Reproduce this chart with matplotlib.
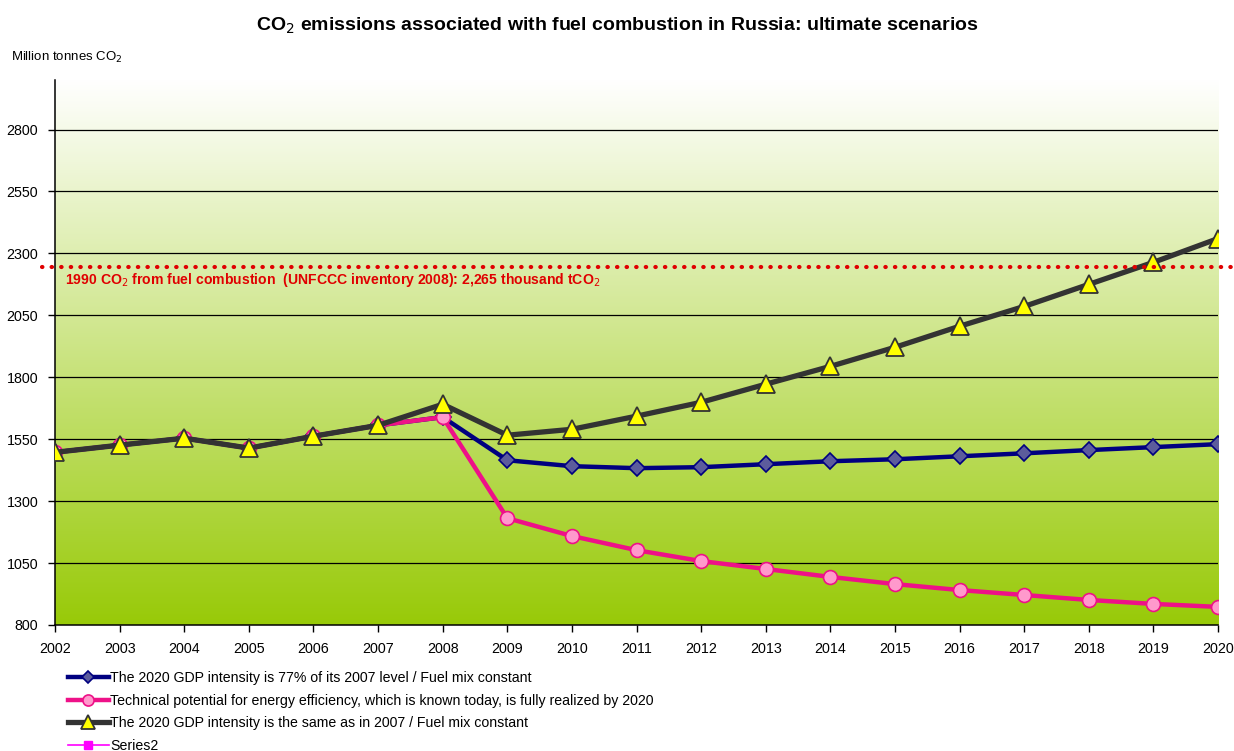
import numpy as np
import matplotlib
matplotlib.use("Agg")
import matplotlib.pyplot as plt
from matplotlib.colors import LinearSegmentedColormap

plt.rcParams['font.family'] = ['Liberation Sans Narrow', 'Liberation Sans', 'DejaVu Sans']

# data
years = list(range(2002, 2021))
gdp77 = [1497, 1526, 1554, 1514, 1562, 1606, 1639, 1465, 1441, 1433, 1437, 1449,
         1461, 1469, 1481, 1493, 1506, 1518, 1530]
tech = [1497, 1526, 1554, 1514, 1562, 1606, 1639, 1231, 1159, 1102, 1058, 1026,
        994, 965, 941, 921, 901, 885, 873]
same2007 = [1497, 1526, 1554, 1514, 1562, 1606, 1691, 1566, 1590, 1643, 1699, 1772,
            1844, 1921, 2006, 2086, 2175, 2264, 2360]
level_1990 = 2245
yticks = [800, 1050, 1300, 1550, 1800, 2050, 2300, 2550, 2800]

fig = plt.figure(figsize=(12.34, 7.51), dpi=100)
ax = fig.add_axes([0.0446, 0.1678, 0.9425, 0.7257])

# gradient background white -> green
cmap = LinearSegmentedColormap.from_list('bg', ['#98ca08', '#ffffff'])
grad = np.linspace(0, 1, 256).reshape(-1, 1)
ax.imshow(grad, cmap=cmap, aspect='auto', origin='lower',
          extent=[2002, 2020, 800, 3000], zorder=0)

for v in yticks[1:]:
    ax.axhline(v, color='black', lw=0.9, zorder=1)

ax.plot(years, gdp77, color='#000080', lw=3.2, marker='D', ms=8,
        mfc='#5c5c9c', mec='#000080', mew=1.2, zorder=3,
        label='The 2020 GDP intensity is 77% of its 2007 level / Fuel mix constant')
ax.plot(years, tech, color='#ee1188', lw=3.2, marker='o', ms=10,
        mfc='#ff99cc', mec='#ee1188', mew=1.2, zorder=4,
        label='Technical potential for energy efficiency, which is known today, is fully realized by 2020')
ax.plot(years, same2007, color='#333333', lw=3.8, marker='^', ms=13,
        mfc='#ffff00', mec='#333333', mew=1.3, zorder=5,
        label='The 2020 GDP intensity is the same as in 2007 / Fuel mix constant')
ax.plot([], [], color='#ff00ff', lw=1.2, marker='s', ms=8, label='Series2')

ax.plot([2001.8, 2020.3], [level_1990, level_1990], color='#e00000', lw=3,
        ls=(0, (0.1, 2.2)), dash_capstyle='round', clip_on=False, zorder=6)
ax.text(2002.15, level_1990 - 18,
        '1990 CO$_2$ from fuel combustion  (UNFCCC inventory 2008): 2,265 thousand tCO$_2$',
        color='#e00000', fontsize=10.1, fontweight='bold', va='top', ha='left', zorder=6)

ax.set_xlim(2002, 2020)
ax.set_ylim(800, 3000)
ax.set_xticks(years)
ax.set_xticklabels([str(y) for y in years], fontsize=10.3)
ax.set_yticks(yticks)
ax.set_yticklabels([str(v) for v in yticks], fontsize=10.3)
ax.tick_params(axis='both', direction='out', length=5, width=1, pad=7)
for s in ['top', 'right']:
    ax.spines[s].set_visible(False)
for s in ['left', 'bottom']:
    ax.spines[s].set_linewidth(1.1)

fig.text(0.5, 0.965, 'CO$_2$ emissions associated with fuel combustion in Russia: ultimate scenarios',
         ha='center', va='center', fontsize=14, fontweight='bold')
fig.text(0.009, 0.924, 'Million tonnes CO$_2$', ha='left', va='center', fontsize=9.5)

fig.legend(loc='upper left', bbox_to_anchor=(0.055, 0.106), frameon=False,
           fontsize=10.2, handlelength=2.9, handletextpad=0.1, labelspacing=0.6,
           markerscale=0.8, borderaxespad=0, borderpad=0)

fig.savefig('out.png', dpi=100)
